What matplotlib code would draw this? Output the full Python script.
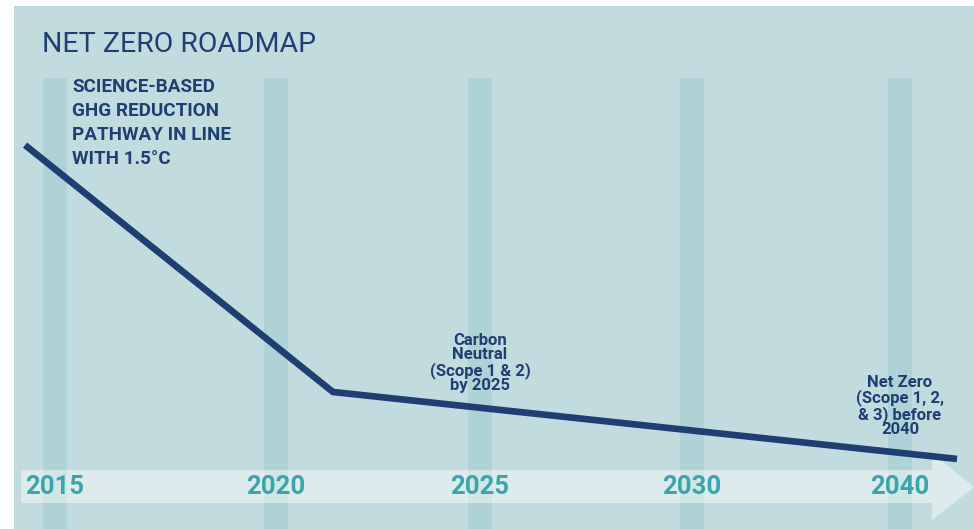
import numpy as np
import matplotlib.pyplot as plt
from matplotlib.patches import Rectangle, Polygon

plt.rcParams['font.family'] = ['Roboto', 'DejaVu Sans']

years = ['2015', '2020', '2025', '2030', '2040']
year_pos = [0, 1.047, 2.014, 3.019, 4.005]
# pathway: position on the year axis and emissions index
path_x = [-0.142, 1.317, 4.275]
path_y = [100, 35.5, 18]

navy = '#1f3f73'
teal = '#3aa5aa'

fig = plt.figure(figsize=(9.74, 5.29), dpi=100)
fig.patch.set_facecolor('white')

ax = fig.add_axes([0, 0, 1, 1])
ax.set_facecolor('none')
ax.set_xlim(-55 / 211, 919 / 211)
ax.set_ylim(-0.3, 137.9)
ax.axis('off')

W, H = 974, 529
ax.add_patch(Rectangle((14 / W, 0), 1, 1 - 6 / H, transform=fig.transFigure,
                       facecolor='#c2dbdf', edgecolor='none', zorder=0))

for p in year_pos:
    ax.axvspan(p - 0.055, p + 0.055, ymin=0, ymax=1 - 78 / H,
               color='#aed2d6', lw=0, zorder=1)

# timeline arrow (figure pixels)
arrow = [(21, 470), (932, 470), (932, 453), (974, 487), (932, 520), (932, 503), (21, 503)]
arrow = [(x / W, 1 - y / H) for x, y in arrow]
ax.add_patch(Polygon(arrow, closed=True, transform=fig.transFigure,
                     facecolor='white', alpha=0.45, edgecolor='none', zorder=2))

for p, y in zip(year_pos, years):
    ax.text(p, 1 - 487 / H, y, transform=ax.get_xaxis_transform(), ha='center', va='center',
            fontsize=18.5, fontweight='bold', color=teal, zorder=3)

ax.plot(path_x, path_y, color=navy, lw=4.8, solid_capstyle='butt', zorder=4)

ax.text(42 / W, 1 - 44 / H, 'NET ZERO ROADMAP', transform=fig.transFigure, ha='left', va='center',
        fontsize=20.5, color=navy, zorder=5)
ax.text(72 / W, 1 - 78 / H, 'SCIENCE-BASED\nGHG REDUCTION\nPATHWAY IN LINE\nWITH 1.5°C',
        transform=fig.transFigure, ha='left', va='top', fontsize=13.6, fontweight='bold',
        color=navy, linespacing=1.42, zorder=5)

ax.text(year_pos[2], 1 - 363 / H, 'Carbon\nNeutral\n(Scope 1 & 2)\nby 2025', transform=ax.get_xaxis_transform(),
        ha='center', va='center', fontsize=12, fontweight='bold', color=navy, linespacing=0.97, zorder=5)
ax.text(year_pos[4], 1 - 406 / H, 'Net Zero\n(Scope 1, 2,\n& 3) before\n2040', transform=ax.get_xaxis_transform(),
        ha='center', va='center', fontsize=12, fontweight='bold', color=navy, linespacing=0.97, zorder=5)

fig.savefig('out.png', dpi=100)
